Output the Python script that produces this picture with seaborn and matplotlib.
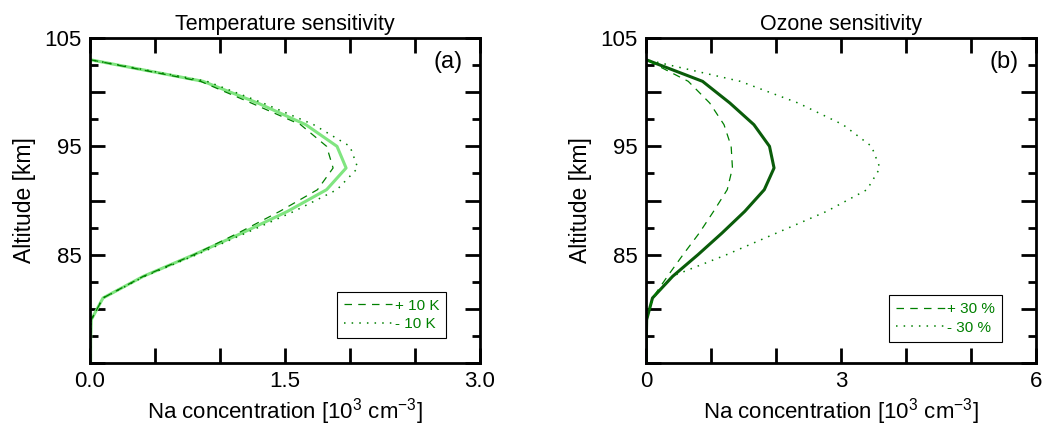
import numpy as np
import pandas as pd
import seaborn as sns
import matplotlib.pyplot as plt
from matplotlib.ticker import FixedLocator, FuncFormatter

# altitude grid [km]
alt = [75, 77, 79, 81, 83, 85, 87, 89, 91, 93, 95, 97, 99, 101, 103]

# Na concentration [10^3 cm^-3]
base = [0.005, 0.005, 0.01, 0.10, 0.41, 0.80, 1.17, 1.52, 1.82, 1.97, 1.90, 1.66, 1.29, 0.87, 0.0]
temp_plus10 = [0.005, 0.005, 0.01, 0.10, 0.41, 0.80, 1.14, 1.46, 1.75, 1.87, 1.82, 1.62, 1.24, 0.85, 0.0]
temp_minus10 = [0.005, 0.005, 0.01, 0.10, 0.42, 0.82, 1.20, 1.57, 1.90, 2.06, 2.00, 1.72, 1.33, 0.90, 0.0]
ozone_plus30 = [0.005, 0.005, 0.01, 0.10, 0.33, 0.57, 0.82, 1.04, 1.25, 1.33, 1.31, 1.20, 0.98, 0.65, 0.0]
ozone_minus30 = [0.005, 0.005, 0.01, 0.11, 0.40, 1.24, 2.01, 2.78, 3.40, 3.60, 3.47, 3.03, 2.34, 1.45, 0.0]

df = pd.DataFrame({"alt": alt, "base": base,
                   "tp": temp_plus10, "tm": temp_minus10,
                   "op": ozone_plus30, "om": ozone_minus30})

sns.set_style("ticks")
plt.rcParams["font.family"] = ["Liberation Sans", "DejaVu Sans"]
plt.rcParams["mathtext.fontset"] = "custom"
plt.rcParams["mathtext.rm"] = "Liberation Sans"
plt.rcParams["text.color"] = "black"
plt.rcParams["axes.labelcolor"] = "black"
plt.rcParams["xtick.color"] = "black"
plt.rcParams["ytick.color"] = "black"

fig = plt.figure(figsize=(10.51, 4.30), dpi=100)
ax1 = fig.add_axes([90/1051, 67/430, 390/1051, 325/430])
ax2 = fig.add_axes([646/1051, 67/430, 390/1051, 325/430])

lg = "#008000"

# panel (a)
sns.lineplot(data=df, x="base", y="alt", sort=False, estimator=None, color="#80e580", lw=2.2, ax=ax1)
sns.lineplot(data=df, x="tp", y="alt", sort=False, estimator=None, color=lg, lw=0.9, ax=ax1,
             linestyle=(0, (6, 5)), label="+ 10 K")
sns.lineplot(data=df, x="tm", y="alt", sort=False, estimator=None, color=lg, lw=1.1, ax=ax1,
             linestyle=(0, (1, 4)), label="- 10 K")

# panel (b)
sns.lineplot(data=df, x="base", y="alt", sort=False, estimator=None, color="#0a5c0a", lw=2.2, ax=ax2)
sns.lineplot(data=df, x="op", y="alt", sort=False, estimator=None, color=lg, lw=0.9, ax=ax2,
             linestyle=(0, (6, 5)), label="+ 30 %")
sns.lineplot(data=df, x="om", y="alt", sort=False, estimator=None, color=lg, lw=1.1, ax=ax2,
             linestyle=(0, (1, 4)), label="- 30 %")

def style(ax, xmax, xstep, xlabs, xfmt, title, tag, leg_y):
    ax.set_xlim(0, xmax)
    ax.set_ylim(75, 105)
    ax.xaxis.set_major_locator(FixedLocator(np.arange(0, xmax + 1e-9, xstep)))
    ax.xaxis.set_major_formatter(FuncFormatter(
        lambda v, p: (xfmt % v) if any(abs(v - l) < 1e-6 for l in xlabs) else ""))
    ax.yaxis.set_major_locator(FixedLocator(np.arange(75, 106, 5)))
    ax.yaxis.set_minor_locator(FixedLocator(np.arange(77.5, 105, 5)))
    ax.yaxis.set_major_formatter(FuncFormatter(
        lambda v, p: "%d" % v if int(round(v)) in (85, 95, 105) else ""))
    ax.tick_params(which="both", direction="in", top=True, right=True, width=2,
                   labelsize=16, pad=6)
    ax.tick_params(which="major", length=11)
    ax.tick_params(which="minor", length=6)
    for s in ax.spines.values():
        s.set_linewidth(2)
        s.set_color("black")
    ax.set_xlabel("Na concentration [10$^3$ cm$^{-3}$]", fontsize=16, labelpad=3)
    ax.set_ylabel("Altitude [km]", fontsize=16.5, labelpad=6)
    ax.set_title(title, fontsize=15.5, pad=6)
    ax.text(0.955, 0.925, tag, transform=ax.transAxes, fontsize=17, ha="right", va="center")
    leg = ax.legend(loc="lower right", bbox_to_anchor=(0.913, leg_y), fontsize=11, frameon=True,
                    fancybox=False, framealpha=1, edgecolor="black", handlelength=3.2,
                    handletextpad=0.15, borderpad=0.45, labelspacing=0.3, borderaxespad=0)
    leg.get_frame().set_linewidth(0.8)
    for t in leg.get_texts():
        t.set_color(lg)

style(ax1, 3.0, 0.5, [0, 1.5, 3.0], "%.1f", "Temperature sensitivity", "(a)", 0.077)
style(ax2, 6, 1, [0, 3, 6], "%d", "Ozone sensitivity", "(b)", 0.066)

fig.savefig("out.png", dpi=100)
